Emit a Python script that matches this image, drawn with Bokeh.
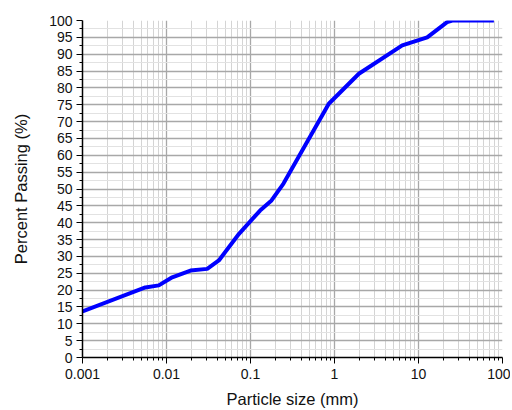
from bokeh.plotting import figure
from bokeh.models import FixedTicker, CustomJSTickFormatter, Range1d
from bokeh.embed import file_html
from bokeh.resources import INLINE

# Data
size_mm = [0.001, 0.0056, 0.0081, 0.0117, 0.0193, 0.0305, 0.042, 0.073, 0.13, 0.178, 0.247, 0.855, 1.95, 6.4, 12.7, 21.9, 25.2, 79.0]
passing = [13.7, 20.8, 21.4, 23.8, 25.8, 26.3, 28.8, 36.7, 43.6, 46.6, 51.6, 75.3, 84.2, 92.6, 95.0, 99.5, 100.0, 100.0]

x_major = [0.001, 0.01, 0.1, 1, 10, 100]
x_minor = [m * d for d in [0.001, 0.01, 0.1, 1, 10] for m in range(2, 10)]
y_major = list(range(0, 101, 5))
y_minor = [v + 2.5 for v in range(0, 100, 5)]

FONT = "Liberation Sans"

p = figure(width=510, height=410, x_axis_type="log",
           x_range=Range1d(0.001, 100), y_range=Range1d(0, 100),
           output_backend="svg", toolbar_location=None,
           min_border_left=82, min_border_right=8, min_border_top=20, min_border_bottom=53)
p.outline_line_color = None
p.background_fill_color = "white"
p.border_fill_color = "white"

p.xaxis.ticker = FixedTicker(ticks=x_major, minor_ticks=x_minor)
p.yaxis.ticker = FixedTicker(ticks=y_major, minor_ticks=y_minor)
p.xaxis.formatter = CustomJSTickFormatter(code="return tick.toString();")

for ax in (p.xaxis, p.yaxis):
    ax.axis_line_color = "black"
    ax.axis_line_width = 1.5
    ax.major_tick_line_color = "black"
    ax.minor_tick_line_color = "black"
    ax.major_tick_out = 6
    ax.major_tick_in = 0
    ax.minor_tick_out = 3
    ax.minor_tick_in = 0
    ax.major_label_text_font = FONT
    ax.major_label_text_font_size = "14px"
    ax.major_label_text_color = "#111111"
    ax.axis_label_text_font = FONT
    ax.axis_label_text_font_size = "16.5px"
    ax.axis_label_text_font_style = "normal"
    ax.axis_label_text_color = "#111111"

p.xaxis.axis_label = "Particle size (mm)"
p.yaxis.axis_label = "Percent Passing (%)"
p.xaxis.major_label_standoff = 5
p.yaxis.major_label_standoff = 4
p.xaxis.axis_label_standoff = 8
p.yaxis.axis_label_standoff = 16

p.xgrid.grid_line_color = "#a8a8a8"
p.xgrid.minor_grid_line_color = "#d4d4d4"
p.ygrid.grid_line_color = "#a8a8a8"
p.ygrid.minor_grid_line_color = "#e2e2e2"
p.xgrid.grid_line_width = 1.3
p.ygrid.grid_line_width = 1.3

p.line(size_mm, passing, line_color="#0000ff", line_width=4)

open("out.html", "w").write(file_html(p, INLINE))
